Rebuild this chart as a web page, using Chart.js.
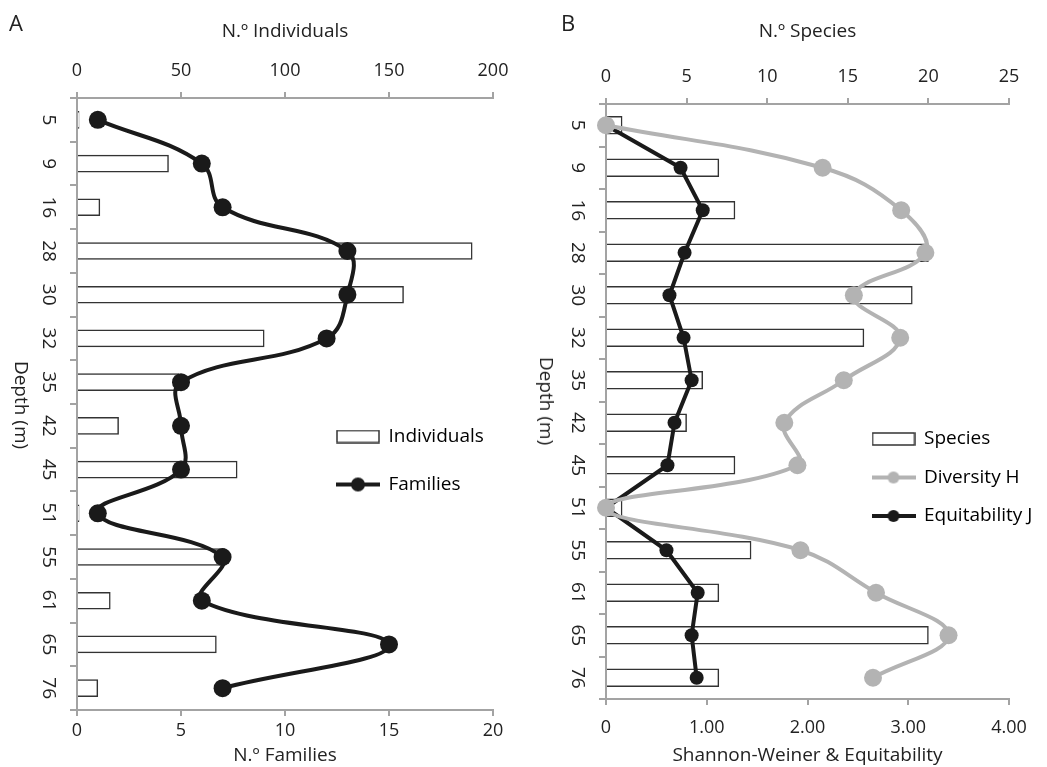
<!DOCTYPE html>
<html>
<head>
<meta charset="utf-8">
<script src="https://cdn.jsdelivr.net/npm/chart.js@4.4.1/dist/chart.umd.min.js"></script>
<style>
  body { margin: 0; background: #fff; font-family: 'Open Sans', sans-serif; color: #222; }
  .panel { position: absolute; top: 0; }
  .tag { position: absolute; font-size: 22px; line-height: 1; }
  .depth { position: absolute; font-size: 19px; white-space: nowrap; transform: translate(-50%, -50%) rotate(90deg); }
</style>
</head>
<body>
<div class="panel" style="left:0"><canvas id="chartA" width="523" height="767"></canvas></div>
<div class="panel" style="left:523px"><canvas id="chartB" width="524" height="767"></canvas></div>
<div class="tag" style="left:9px;top:11px">A</div>
<div class="tag" style="left:561px;top:11px">B</div>
<div class="depth" style="left:22px;top:405px">Depth (m)</div>
<div class="depth" style="left:547px;top:401px">Depth (m)</div>
<script>
const depths = ['5', '9', '16', '28', '30', '32', '35', '42', '45', '51', '55', '61', '65', '76'];
const individuals = [1, 44, 11, 190, 157, 90, 49, 20, 77, 1, 71, 16, 67, 10];
const families = [1, 6, 7, 13, 13, 12, 5, 5, 5, 1, 7, 6, 15, 7];
const species = [1, 7, 8, 20, 19, 16, 6, 5, 8, 1, 9, 7, 20, 7];
const diversityH = [0, 2.15, 2.93, 3.17, 2.46, 2.92, 2.36, 1.77, 1.9, 0, 1.93, 2.68, 3.4, 2.65];
const equitJ = [0, 0.74, 0.96, 0.78, 0.63, 0.77, 0.85, 0.68, 0.61, 0, 0.6, 0.91, 0.85, 0.9];

const FONT = 'Open Sans';
const AXIS = '#a3a3a3';
const INK = '#222';
const GREY = '#b3b3b3';

// small pictures for the legend keys
function barIcon() {
  const c = document.createElement('canvas');
  c.width = 44; c.height = 14;
  const g = c.getContext('2d');
  g.strokeStyle = '#333';
  g.lineWidth = 1.5;
  g.strokeRect(1, 1, 42, 12);
  return c;
}
function lineIcon(color, r) {
  const c = document.createElement('canvas');
  c.width = 44; c.height = 20;
  const g = c.getContext('2d');
  g.strokeStyle = color;
  g.fillStyle = color;
  g.lineWidth = 4;
  g.beginPath(); g.moveTo(0, 10); g.lineTo(44, 10); g.stroke();
  g.beginPath(); g.arc(22, 10, r, 0, Math.PI * 2); g.fill();
  return c;
}

// move the legend inside the plot
const legendSpot = {
  id: 'legendSpot',
  afterLayout(chart, args, opts) {
    const lg = chart.legend;
    const w = lg.width;
    const h = lg.height;
    lg.left = opts.x; lg.top = opts.y;
    lg.right = opts.x + w; lg.bottom = opts.y + h;
  },
};

function fixSize(prop, val) {
  return (s) => {
    s[prop] = val;
    s.paddingLeft = 0; s.paddingRight = 0; s.paddingTop = 0; s.paddingBottom = 0;
  };
}

function makeChart(id, cfg) {
  const icons = cfg.icons;
  return new Chart(document.getElementById(id), {
    type: 'bar',
    data: { labels: depths, datasets: cfg.datasets },
    plugins: [legendSpot],
    options: {
      responsive: false,
      animation: false,
      indexAxis: 'y',
      layout: { padding: { left: 0, right: cfg.padRight, top: 0, bottom: 0 } },
      plugins: {
        tooltip: { enabled: false },
        legendSpot: { x: cfg.legendX, y: cfg.legendY },
        legend: {
          position: 'chartArea',
          align: 'start',
          labels: {
            usePointStyle: true,
            pointStyleWidth: 42,
            padding: cfg.legendGap,
            color: INK,
            font: { family: FONT, size: 19 },
            generateLabels: (chart) => chart.data.datasets.map((ds, i) => ({
              text: ds.label,
              pointStyle: icons[i],
              datasetIndex: i,
              fillStyle: 'transparent',
              strokeStyle: 'transparent',
              lineWidth: 0,
              hidden: false,
            })),
          },
        },
      },
      scales: {
        y: {
          type: 'category',
          position: 'left',
          offset: true,
          afterFit: fixSize('width', cfg.left),
          border: { color: AXIS, width: 2 },
          grid: { offset: true, drawOnChartArea: false, color: AXIS, lineWidth: 2, tickLength: 7 },
          ticks: {
            color: INK,
            font: { family: FONT, size: 19 },
            minRotation: -90,
            maxRotation: -90,
            crossAlign: 'center',
            padding: 11,
          },
        },
        xTop: {
          type: 'linear',
          position: 'top',
          min: 0,
          max: cfg.topMax,
          afterFit: fixSize('height', cfg.top),
          border: { color: AXIS, width: 2 },
          grid: { drawOnChartArea: false, color: AXIS, lineWidth: 2, tickLength: 6 },
          ticks: { stepSize: cfg.topStep, color: INK, font: { family: FONT, size: 18 }, padding: 10 },
          title: { display: true, text: cfg.topTitle, color: INK, font: { family: FONT, size: 19 }, padding: { top: 20, bottom: 0 } },
        },
        xBot: {
          type: 'linear',
          position: 'bottom',
          min: 0,
          max: cfg.botMax,
          afterFit: fixSize('height', 767 - cfg.bottom),
          border: { color: AXIS, width: 2 },
          grid: { drawOnChartArea: false, color: AXIS, lineWidth: 2, tickLength: 6 },
          ticks: {
            stepSize: cfg.botStep,
            color: INK,
            font: { family: FONT, size: 18 },
            padding: cfg.botPad,
            callback: cfg.botFmt,
          },
          title: { display: true, text: cfg.botTitle, color: INK, font: { family: FONT, size: 19 }, padding: { top: 0, bottom: 0 } },
        },
      },
    },
  });
}

makeChart('chartA', {
  left: 77, top: 98, bottom: 710, padRight: 30,
  topMax: 200, topStep: 50, topTitle: 'N.º Individuals',
  botMax: 20, botStep: 5, botTitle: 'N.º Families', botPad: 4,
  botFmt: (v) => v,
  legendX: 308, legendY: 398, legendGap: 29,
  icons: [barIcon(), lineIcon('#1a1a1a', 7)],
  datasets: [
    {
      type: 'bar', label: 'Individuals', data: individuals, xAxisID: 'xTop', yAxisID: 'y',
      backgroundColor: '#fff', borderColor: '#333', borderWidth: 1.5, barThickness: 17, order: 2,
    },
    {
      type: 'line', label: 'Families', data: families, xAxisID: 'xBot', yAxisID: 'y', indexAxis: 'y',
      borderColor: '#1a1a1a', backgroundColor: '#1a1a1a', borderWidth: 4, tension: 0.4,
      pointRadius: 9, pointBorderWidth: 0, clip: false, order: 0,
    },
  ],
});

makeChart('chartB', {
  left: 83, top: 104, bottom: 699, padRight: 38,
  topMax: 25, topStep: 5, topTitle: 'N.º Species',
  botMax: 4, botStep: 1, botTitle: 'Shannon-Weiner & Equitability', botPad: 12,
  botFmt: (v) => (v === 0 ? '0' : v.toFixed(2)),
  legendX: 330, legendY: 410, legendGap: 19.5,
  icons: [barIcon(), lineIcon(GREY, 6), lineIcon('#1a1a1a', 6)],
  datasets: [
    {
      type: 'bar', label: 'Species', data: species, xAxisID: 'xTop', yAxisID: 'y',
      backgroundColor: '#fff', borderColor: '#333', borderWidth: 1.5, barThickness: 18, order: 2,
    },
    {
      type: 'line', label: 'Diversity H', data: diversityH, xAxisID: 'xBot', yAxisID: 'y', indexAxis: 'y',
      borderColor: GREY, backgroundColor: GREY, borderWidth: 4, tension: 0.4,
      pointRadius: 9, pointBorderWidth: 0, clip: false, order: 0,
    },
    {
      type: 'line', label: 'Equitability J', data: equitJ, xAxisID: 'xBot', yAxisID: 'y', indexAxis: 'y',
      borderColor: '#1a1a1a', backgroundColor: '#1a1a1a', borderWidth: 4, tension: 0,
      pointRadius: 7, pointBorderWidth: 0, clip: false, order: 1,
    },
  ],
});
</script>
</body>
</html>
